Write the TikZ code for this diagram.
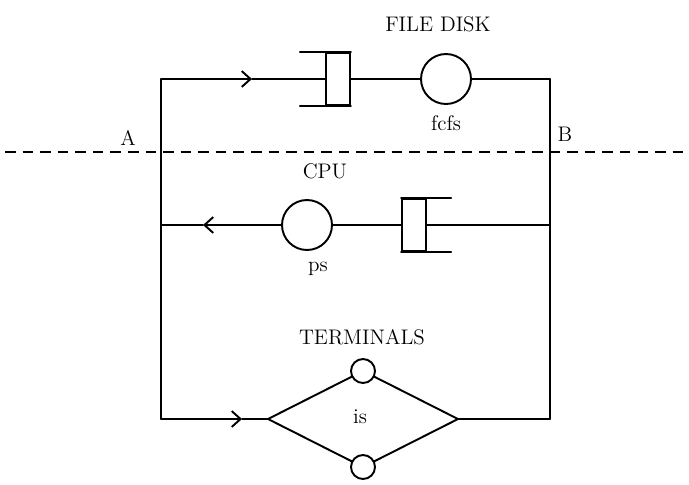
\documentclass[tikz,border=0pt]{standalone}
\usepackage{tikz}
\usetikzlibrary{arrows.meta, positioning}

\begin{document}
\begin{tikzpicture}[x=0.02cm, y=-0.02cm, line width=1.1pt, line cap=round,
    server/.style={circle, draw, minimum size=1cm, inner sep=0pt},
    term/.style={circle, draw, minimum size=0.48cm, inner sep=0pt},
    qbox/.style={rectangle, draw, minimum width=0.48cm, minimum height=1.04cm, inner sep=0pt},
    flow/.style={-{Straight Barb[length=5pt, width=9pt]}},
    lbl/.style={font=\large}]
  \useasboundingbox (0,0) rectangle (689,484);

  % Frame corners
  \coordinate (ctl) at (161,79);
  \coordinate (ctr) at (550,79);
  \coordinate (cml) at (161,225);
  \coordinate (cmr) at (550,225);
  \coordinate (cbl) at (161,419);
  \coordinate (cbr) at (550,419);
  \draw (ctl) -- (cbl);
  \draw (ctr) -- (cbr);

  % File disk
  \node[qbox] (qdisk) at (338,79) {};
  \draw (qdisk.north east) -- ++(-51,0);
  \draw (qdisk.south east) -- ++(-51,0);
  \node[server] (disk) at (446,79) {};
  \node[lbl] (ldisk) at (438,24) {FILE DISK};
  \node[lbl] (lfcfs) at (446,123) {fcfs};
  \coordinate (atop) at (252,79);
  \draw[flow] (ctl) -- (atop);
  \draw (atop) -- (qdisk.west);
  \draw (qdisk.east) -- (disk);
  \draw (disk) -- (ctr);

  % Cut line
  \coordinate (dl) at (5,152);
  \coordinate (dr) at (689,152);
  \draw[line width=0.8pt, line cap=butt, dash pattern=on 6pt off 4pt] (dl) -- (dr);
  \node[lbl] (la) at (128,138) {A};
  \node[lbl] (lb) at (565,134) {B};

  % CPU
  \node[qbox] (qcpu) at (414,225) {};
  \draw (qcpu.north west) -- ++(50,0);
  \draw (qcpu.south west) -- ++(50,0);
  \node[server] (cpu) at (307,225) {};
  \node[lbl] (lcpu) at (325,171) {CPU};
  \node[lbl] (lps) at (318,269) {ps};
  \coordinate (amid) at (203,225);
  \draw (cmr) -- (qcpu.east);
  \draw (qcpu.west) -- (cpu);
  \draw[flow] (cpu) -- (amid);
  \draw (amid) -- (cml);

  % Terminals
  \coordinate (tl) at (268,419);
  \coordinate (tr) at (458,419);
  \node[term] (tt) at (363,371) {};
  \node[term] (tb) at (363,467) {};
  \node[lbl] (lterm) at (362,337) {TERMINALS};
  \node[lbl] (lis) at (360,417) {is};
  \coordinate (abot) at (242,419);
  \draw[flow] (cbl) -- (abot);
  \draw (abot) -- (tl);
  \draw (tl) -- (tt);
  \draw (tt) -- (tr);
  \draw (tr) -- (tb);
  \draw (tb) -- (tl);
  \draw (tr) -- (cbr);
\end{tikzpicture}
\end{document}
